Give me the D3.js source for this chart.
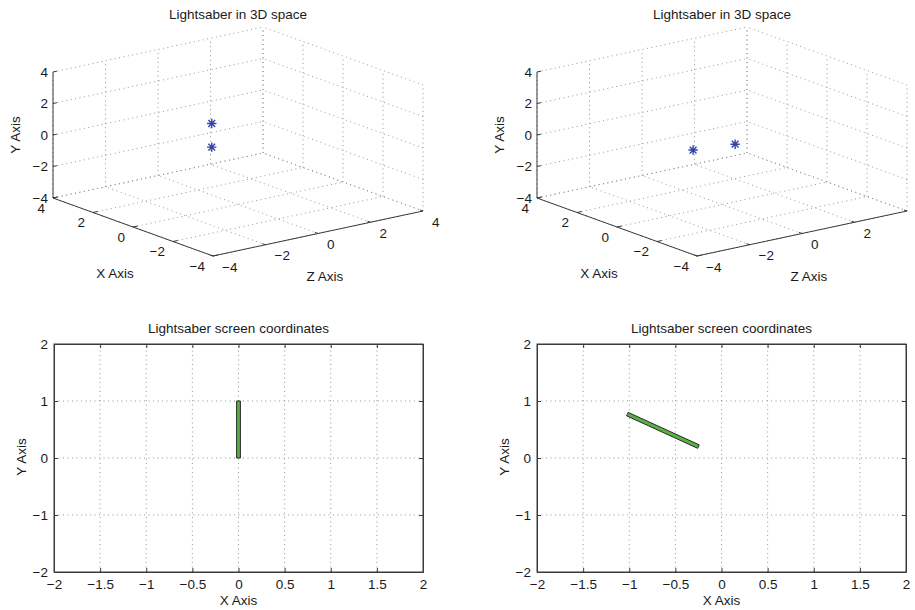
<!DOCTYPE html>
<html>
<head>
<meta charset="utf-8">
<script src="https://cdn.jsdelivr.net/npm/d3@7"></script>
<style>
body { margin: 0; background: #fff; }
text { font-family: "Liberation Sans", Arial, sans-serif; font-size: 13.5px; fill: #1a1a1a; }
</style>
</head>
<body>
<svg id="fig" width="915" height="610"></svg>
<script>
// tick values
const ticks3D = [-4, -2, 0, 2, 4];
const ticksX2D = [-2, -1.5, -1, -0.5, 0, 0.5, 1, 1.5, 2];
const ticksY2D = [-2, -1, 0, 1, 2];

// saber end points in 3D (left and right panels)
const leftSaberX = [0, 0];
const leftSaberY = [0, 1.5];
const leftSaberZ = [-1, -1];
const rightSaberX = [0, 0];
const rightSaberY = [-0.15, -0.35];
const rightSaberZ = [-1.1, 0.5];

// saber end points on screen
const leftScreenX = [0, 0];
const leftScreenY = [0, 1];
const rightScreenX = [-1.02, -0.25];
const rightScreenY = [0.77, 0.2];

const title3D = "Lightsaber in 3D space";
const title2D = "Lightsaber screen coordinates";

const svg = d3.select("#fig");
const fmt = d3.format("");
const unit = d3.scaleLinear().domain([-4, 4]).range([0, 1]);
const line = d3.line();

// box corner (-4,-4,-4) on screen + edge vectors for a full axis span
function makeProj(cx, cy) {
    const vx = [-160, -58], vy = [0, -126], vz = [210, -45];
    return (x, y, z) => [
        cx + unit(x) * vx[0] + unit(y) * vy[0] + unit(z) * vz[0],
        cy + unit(x) * vx[1] + unit(y) * vy[1] + unit(z) * vz[1]
    ];
}

function star(g, p) {
    const r = 4.7, d = r * 0.72;
    g.append("path")
        .attr("d", `M${p[0]-r},${p[1]}H${p[0]+r}M${p[0]},${p[1]-r}V${p[1]+r}` +
            `M${p[0]-d},${p[1]-d}L${p[0]+d},${p[1]+d}M${p[0]-d},${p[1]+d}L${p[0]+d},${p[1]-d}`)
        .attr("stroke", "#3444a8")
        .attr("stroke-width", 1.4)
        .attr("fill", "none");
}

function draw3D(off, xs, ys, zs) {
    const g = svg.append("g");
    const P = makeProj(213 + off, 256);
    const seg = [];
    ticks3D.forEach(t => {
        // floor
        seg.push([P(t, -4, -4), P(t, -4, 4)]);
        seg.push([P(-4, -4, t), P(4, -4, t)]);
        // x = 4 wall
        seg.push([P(4, t, -4), P(4, t, 4)]);
        seg.push([P(4, -4, t), P(4, 4, t)]);
        // z = 4 wall
        seg.push([P(-4, t, 4), P(4, t, 4)]);
        seg.push([P(t, -4, 4), P(t, 4, 4)]);
    });
    g.selectAll("path.grid")
        .data(seg)
        .enter()
        .append("path")
        .attr("class", "grid")
        .attr("d", d => line(d))
        .attr("stroke", "#8a8a8a")
        .attr("stroke-width", 0.9)
        .attr("stroke-dasharray", "1,3.5")
        .attr("fill", "none");

    // solid axes
    const axes = [
        [P(4, -4, -4), P(4, 4, -4)],
        [P(4, -4, -4), P(-4, -4, -4)],
        [P(-4, -4, -4), P(-4, -4, 4)]
    ];
    g.selectAll("path.axis")
        .data(axes)
        .enter()
        .append("path")
        .attr("class", "axis")
        .attr("d", d => line(d))
        .attr("stroke", "#3a3a3a")
        .attr("stroke-width", 1)
        .attr("fill", "none");

    // ticks
    const tk = [];
    ticks3D.forEach(t => {
        tk.push([P(4, t, -4), P(4, t, -3.85)]);
        tk.push([P(t, -4, -4), P(t, -4, -3.82)]);
        tk.push([P(-4, -4, t), P(-3.85, -4, t)]);
    });
    g.selectAll("path.tick")
        .data(tk)
        .enter()
        .append("path")
        .attr("class", "tick")
        .attr("d", d => line(d))
        .attr("stroke", "#3a3a3a")
        .attr("stroke-width", 1)
        .attr("fill", "none");

    // tick labels
    ticks3D.forEach(t => {
        let p = P(4, t, -4);
        g.append("text").attr("x", p[0] - 5).attr("y", p[1])
            .attr("text-anchor", "end").attr("dominant-baseline", "central").text(fmt(t));
        p = P(t, -4, -4);
        g.append("text").attr("x", p[0] - 8).attr("y", p[1] + 10)
            .attr("text-anchor", "end").attr("dominant-baseline", "central").text(fmt(t));
        p = P(-4, -4, t);
        g.append("text").attr("x", p[0] + 9).attr("y", p[1] + 11)
            .attr("text-anchor", "start").attr("dominant-baseline", "central").text(fmt(t));
    });

    g.append("text").attr("x", 238 + off).attr("y", 14)
        .attr("text-anchor", "middle").attr("dominant-baseline", "central").text(title3D);
    g.append("text").attr("transform", `translate(${15 + off},135) rotate(-90)`)
        .attr("text-anchor", "middle").attr("dominant-baseline", "central").text("Y Axis");
    g.append("text").attr("x", 115 + off).attr("y", 273)
        .attr("text-anchor", "middle").attr("dominant-baseline", "central").text("X Axis");
    g.append("text").attr("x", 325 + off).attr("y", 276)
        .attr("text-anchor", "middle").attr("dominant-baseline", "central").text("Z Axis");

    xs.forEach((x, i) => star(g, P(x, ys[i], zs[i])));
}

function draw2D(off, xs, ys) {
    const g = svg.append("g");
    const x = d3.scaleLinear().domain([-2, 2]).range([54 + off, 423 + off]);
    const y = d3.scaleLinear().domain([-2, 2]).range([572, 344]);

    // dotted grid
    g.selectAll("line.gx")
        .data(ticksX2D.slice(1, -1))
        .enter()
        .append("line")
        .attr("x1", d => x(d)).attr("x2", d => x(d))
        .attr("y1", y(-2)).attr("y2", y(2))
        .attr("stroke", "#8a8a8a").attr("stroke-width", 0.9)
        .attr("stroke-dasharray", "1,3.5");
    g.selectAll("line.gy")
        .data(ticksY2D.slice(1, -1))
        .enter()
        .append("line")
        .attr("y1", d => y(d)).attr("y2", d => y(d))
        .attr("x1", x(-2)).attr("x2", x(2))
        .attr("stroke", "#8a8a8a").attr("stroke-width", 0.9)
        .attr("stroke-dasharray", "1,3.5");

    g.append("g").attr("transform", `translate(0,${y(-2)})`)
        .call(d3.axisBottom(x).tickValues(ticksX2D).tickFormat(fmt).tickSizeInner(-4).tickSizeOuter(0).tickPadding(7));
    g.append("g").attr("transform", `translate(${x(-2)},0)`)
        .call(d3.axisLeft(y).tickValues(ticksY2D).tickFormat(fmt).tickSizeInner(-4).tickSizeOuter(0).tickPadding(6));
    g.append("g").attr("transform", `translate(0,${y(2)})`)
        .call(d3.axisTop(x).tickValues(ticksX2D).tickFormat("").tickSizeInner(-4).tickSizeOuter(0));
    g.append("g").attr("transform", `translate(${x(2)},0)`)
        .call(d3.axisRight(y).tickValues(ticksY2D).tickFormat("").tickSizeInner(-4).tickSizeOuter(0));
    g.selectAll(".domain, .tick line").attr("stroke", "#3a3a3a");
    g.selectAll(".tick text").style("font-size", "13.5px").attr("fill", "#1a1a1a");

    g.append("rect")
        .attr("x", x(-2)).attr("y", y(2))
        .attr("width", x(2) - x(-2)).attr("height", y(-2) - y(2))
        .attr("fill", "none").attr("stroke", "#3a3a3a");

    // saber as a thin quad
    const p0 = [x(xs[0]), y(ys[0])], p1 = [x(xs[1]), y(ys[1])];
    const dx = p1[0] - p0[0], dy = p1[1] - p0[1];
    const len = Math.hypot(dx, dy), hw = 1.9;
    const nx = -dy / len * hw, ny = dx / len * hw;
    g.append("path")
        .attr("d", line([
            [p0[0] + nx, p0[1] + ny], [p1[0] + nx, p1[1] + ny],
            [p1[0] - nx, p1[1] - ny], [p0[0] - nx, p0[1] - ny]
        ]) + "Z")
        .attr("fill", "#58b043")
        .attr("stroke", "#2a2a2a")
        .attr("stroke-width", 1);

    g.append("text").attr("x", (x(-2) + x(2)) / 2).attr("y", 328)
        .attr("text-anchor", "middle").attr("dominant-baseline", "central").text(title2D);
    g.append("text").attr("x", (x(-2) + x(2)) / 2).attr("y", 600)
        .attr("text-anchor", "middle").attr("dominant-baseline", "central").text("X Axis");
    g.append("text").attr("transform", `translate(${21 + off},457) rotate(-90)`)
        .attr("text-anchor", "middle").attr("dominant-baseline", "central").text("Y Axis");
}

draw3D(0, leftSaberX, leftSaberY, leftSaberZ);
draw3D(484, rightSaberX, rightSaberY, rightSaberZ);
draw2D(0, leftScreenX, leftScreenY);
draw2D(483, rightScreenX, rightScreenY);
</script>
</body>
</html>
